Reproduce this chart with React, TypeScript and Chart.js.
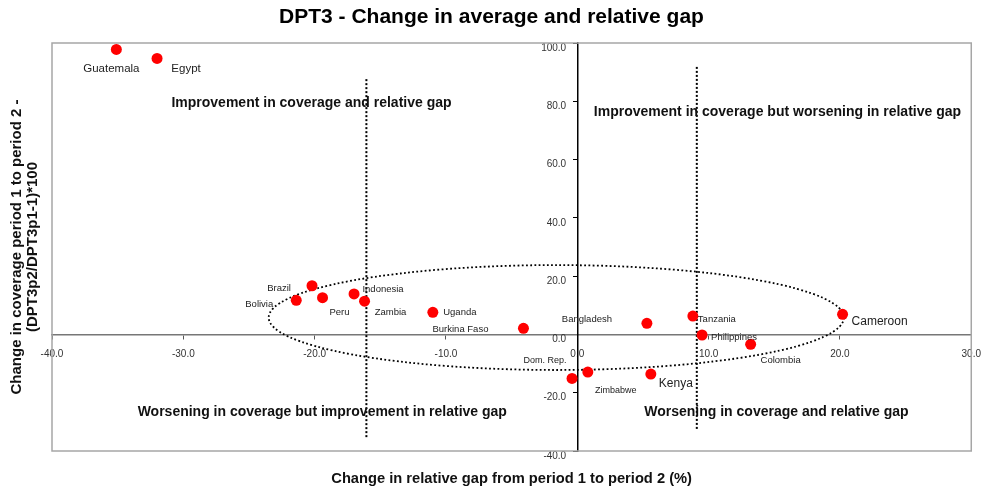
import React, { useEffect, useRef } from "react";
import { Chart, registerables } from "chart.js";

Chart.register(...registerables);

const FONT = '"Liberation Sans", Arial, Helvetica, sans-serif';

// ---------- data ----------
const countries = [
  "Guatemala", "Egypt", "Brazil", "Bolivia", "Peru", "Indonesia", "Zambia",
  "Uganda", "Burkina Faso", "Bangladesh", "Tanzania", "Philippines",
  "Colombia", "Cameroon", "Kenya", "Zimbabwe", "Dom. Rep.",
];
// change in relative gap from period 1 to period 2 (%)
const gapChange = [
  -35.1, -32.0, -20.2, -21.4, -19.4, -17.0, -16.2,
  -11.0, -4.1, 5.3, 8.8, 9.5,
  13.2, 20.2, 5.6, 0.8, -0.4,
];
// change in coverage period 1 to period 2
const coverageChange = [
  97.8, 94.7, 16.7, 11.7, 12.6, 13.9, 11.4,
  7.6, 2.1, 3.8, 6.3, -0.2,
  -3.4, 6.9, -13.6, -12.9, -15.1,
];

const xMin = -40;
const xMax = 30;
const xStep = 10;
const yMin = -40;
const yMax = 100;
const yStep = 20;

const chartTitle = "DPT3 - Change in average and relative gap";
const xAxisTitle = "Change in relative gap from period 1 to period 2 (%)";
const yAxisTitleLines = [
  "Change in coverage period 1 to period 2 -",
  "(DPT3p2/DPT3p1-1)*100",
];

const quadrantLabels = [
  "Improvement in coverage and relative gap",
  "Improvement in coverage but worsening in relative gap",
  "Worsening in coverage but improvement in relative gap",
  "Worsening in coverage and relative gap",
];
const quadrantX = [-20.24, 15.24, -19.42, 15.16];
const quadrantY = [79.3, 76.4, -26.5, -26.7];

const dividerX = [-16.06, 9.1];
const dividerTop = [87.6, 91.8];
const dividerBottom = [-35.5, -33.1];

const ellipseCenter = [-1.6, 5.8];
const ellipseRadii = [21.9, 18.0];

// ---------- label placement (pixel offsets of text centre from point, font size) ----------
const labelPlacement: Record<string, [number, number, number]> = {
  Guatemala: [-5, 19, 11.5],
  Egypt: [29, 10, 11.5],
  Brazil: [-33, 3, 9.5],
  Bolivia: [-37, 4, 9.5],
  Peru: [17, 15, 9.5],
  Indonesia: [29, -5, 9.5],
  Zambia: [26, 11, 9.5],
  Uganda: [27, 0, 9.5],
  "Burkina Faso": [-63, 1, 9.5],
  Bangladesh: [-60, -4, 9.5],
  Tanzania: [24, 3, 9.5],
  Philippines: [32, 2, 9.5],
  Colombia: [30, 16, 9.5],
  Cameroon: [37, 7, 12],
  Kenya: [25, 10, 12],
  Zimbabwe: [28, 18, 9],
  "Dom. Rep.": [-27, -18, 9],
};

const overlayPlugin = {
  id: "overlay",
  beforeDatasetsDraw(chart: any) {
    const { ctx, chartArea: a, scales } = chart;
    const x = scales.x;
    const y = scales.y;
    ctx.save();
    // plot border
    ctx.strokeStyle = "#a6a6a6";
    ctx.lineWidth = 1.5;
    ctx.strokeRect(a.left, a.top, a.right - a.left, a.bottom - a.top);

    // dotted dividers
    ctx.strokeStyle = "#000";
    ctx.lineWidth = 2;
    ctx.setLineDash([2, 2]);
    dividerX.forEach((dx, i) => {
      const px = x.getPixelForValue(dx);
      ctx.beginPath();
      ctx.moveTo(px, y.getPixelForValue(dividerTop[i]));
      ctx.lineTo(px, y.getPixelForValue(dividerBottom[i]));
      ctx.stroke();
    });

    // dotted ellipse
    const cx = x.getPixelForValue(ellipseCenter[0]);
    const cy = y.getPixelForValue(ellipseCenter[1]);
    const rx = x.getPixelForValue(ellipseCenter[0] + ellipseRadii[0]) - cx;
    const ry = cy - y.getPixelForValue(ellipseCenter[1] + ellipseRadii[1]);
    ctx.lineWidth = 1.8;
    ctx.setLineDash([1.8, 2.4]);
    ctx.beginPath();
    ctx.ellipse(cx, cy, rx, ry, 0, 0, Math.PI * 2);
    ctx.stroke();
    ctx.setLineDash([]);

    // quadrant captions
    ctx.fillStyle = "#111";
    ctx.font = `bold 14px ${FONT}`;
    ctx.textAlign = "center";
    ctx.textBaseline = "middle";
    quadrantLabels.forEach((t, i) => {
      ctx.fillText(t, x.getPixelForValue(quadrantX[i]), y.getPixelForValue(quadrantY[i]));
    });
    ctx.restore();
  },
  afterDatasetsDraw(chart: any) {
    const { ctx } = chart;
    const meta = chart.getDatasetMeta(0);
    ctx.save();
    ctx.fillStyle = "#222";
    ctx.textAlign = "center";
    ctx.textBaseline = "middle";
    meta.data.forEach((el: any, i: number) => {
      const name = countries[i];
      const p = labelPlacement[name] || [0, -12, 9.5];
      ctx.font = `${p[2]}px ${FONT}`;
      ctx.fillText(name, el.x + p[0], el.y + p[1]);
    });
    ctx.restore();
  },
  afterDraw(chart: any) {
    const { ctx, chartArea: a } = chart;
    ctx.save();
    ctx.fillStyle = "#000";
    ctx.textAlign = "center";
    ctx.textBaseline = "middle";
    ctx.font = `bold 21px ${FONT}`;
    ctx.fillText(chartTitle, 491.5, 17);
    ctx.font = `bold 14.7px ${FONT}`;
    ctx.fillStyle = "#111";
    ctx.fillText(xAxisTitle, (a.left + a.right) / 2, 479);
    ctx.font = `bold 15px ${FONT}`;
    ctx.translate(25, (a.top + a.bottom) / 2);
    ctx.rotate(-Math.PI / 2);
    ctx.fillText(yAxisTitleLines[0], 0, -8);
    ctx.fillText(yAxisTitleLines[1], 0, 8);
    ctx.restore();
  },
};

export default function App() {
  const ref = useRef<HTMLCanvasElement | null>(null);
  useEffect(() => {
    if (!ref.current) return;
    const points = countries.map((_, i) => ({ x: gapChange[i], y: coverageChange[i] }));
    const chart = new Chart(ref.current, {
      type: "scatter",
      data: {
        datasets: [
          {
            label: "DPT3",
            data: points,
            backgroundColor: "#ff0000",
            borderColor: "#ff0000",
            borderWidth: 0,
            pointRadius: 5.5,
          },
        ],
      },
      options: {
        responsive: false,
        devicePixelRatio: 1,
        animation: false,
        layout: { padding: { left: 52, right: 18, top: 43, bottom: 38 } },
        plugins: { legend: { display: false }, tooltip: { enabled: false }, title: { display: false } },
        scales: {
          x: {
            type: "linear",
            min: xMin,
            max: xMax,
            position: { y: 0 } as any,
            ticks: {
              stepSize: xStep,
              autoSkip: false,
              maxRotation: 0,
              padding: 10,
              color: "#333",
              font: { size: 10, family: FONT },
              callback: (v: any) => Number(v).toFixed(1),
            },
            grid: { drawOnChartArea: false, drawTicks: true, tickLength: 4, color: "#555" },
            border: { color: "#777", width: 1.5 },
          },
          y: {
            type: "linear",
            min: yMin,
            max: yMax,
            position: { x: 0 } as any,
            ticks: {
              stepSize: yStep,
              autoSkip: false,
              padding: 7,
              labelOffset: 5,
              color: "#333",
              font: { size: 10, family: FONT },
              // trailing spaces keep the right-aligned labels clear of the centred axis line
              callback: (v: any) => Number(v).toFixed(1) + "    ",
            },
            grid: { drawOnChartArea: false, drawTicks: true, tickLength: 4, color: "#000" },
            border: { color: "#000", width: 1.5 },
          },
        },
      },
      plugins: [overlayPlugin],
    });
    return () => chart.destroy();
  }, []);
  return (
    <div style={{ position: "fixed", left: 0, top: 0, width: 991, height: 489, background: "#fff" }}>
      <canvas ref={ref} width={991} height={489} style={{ display: "block" }} />
    </div>
  );
}
